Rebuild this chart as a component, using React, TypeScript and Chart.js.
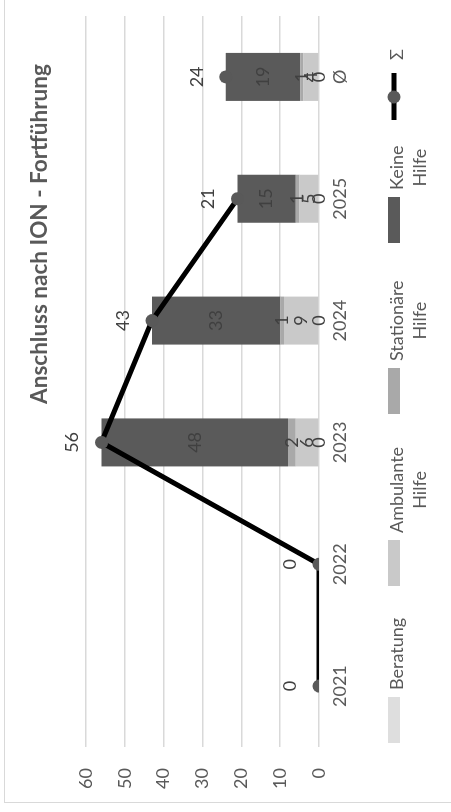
import React, { useEffect, useRef } from 'react';
import { Chart, registerables } from 'chart.js';

Chart.register(...registerables);

const categories = ['2021', '2022', '2023', '2024', '2025', 'Ø'];
const beratung = [null, null, 0, 0, 0, 0];
const ambulante = [null, null, 6, 9, 5, 4];
const stationaer = [null, null, 2, 1, 1, 0.8];
const keineHilfe = [null, null, 48, 33, 15, 19.2];
const summe = [0, 0, 56, 43, 21, 24];
const seriesNames = ['Beratung', 'Ambulante Hilfe', 'Stationäre Hilfe', 'Keine Hilfe', 'Σ'];
const seriesColors = ['#dedede', '#c9c9c9', '#a9a9a9', '#5a5a5a', '#000000'];
const yTicks = [0, 10, 20, 30, 40, 50, 60];
const chartTitle = 'Anschluss nach ION - Fortführung';

const W = 812;
const H = 451;
const FONT = 'Lato';
const TEXT = '#595959';
const LABEL = '#404040';

const labelsPlugin = {
  id: 'customLabels',
  afterDatasetsDraw(chart: any) {
    const ctx = chart.ctx;
    ctx.save();
    ctx.font = `18px ${FONT}`;
    ctx.fillStyle = LABEL;
    ctx.textAlign = 'center';
    ctx.textBaseline = 'middle';
    chart.data.datasets.forEach((ds: any, di: number) => {
      const meta = chart.getDatasetMeta(di);
      meta.data.forEach((el: any, i: number) => {
        const v = ds.data[i];
        if (v === null || v === undefined) return;
        const txt = String(Math.round(v));
        if (ds.type === 'line') {
          ctx.fillText(txt, el.x, el.y - 29);
        } else {
          ctx.fillText(txt, el.x, (el.y + el.base) / 2);
        }
      });
    });
    ctx.restore();
  },
  afterDraw(chart: any) {
    const ctx = chart.ctx;
    ctx.save();
    // title
    ctx.font = `bold 22.5px ${FONT}`;
    ctx.fillStyle = TEXT;
    ctx.textAlign = 'center';
    ctx.textBaseline = 'middle';
    ctx.fillText(chartTitle, 578, 40);
    // legend
    const starts = [69, 226, 398, 569, 692];
    const sy = 394;
    ctx.font = `18px ${FONT}`;
    seriesNames.forEach((name, i) => {
      const x0 = starts[i];
      if (i < 4) {
        ctx.fillStyle = seriesColors[i];
        ctx.fillRect(x0, sy - 6, 46, 12);
      } else {
        ctx.strokeStyle = '#000';
        ctx.lineWidth = 5;
        ctx.beginPath();
        ctx.moveTo(x0, sy);
        ctx.lineTo(x0 + 47, sy);
        ctx.stroke();
        ctx.fillStyle = '#595959';
        ctx.beginPath();
        ctx.arc(x0 + 23, sy, 6.5, 0, Math.PI * 2);
        ctx.fill();
      }
      const parts = name.split(' ');
      const tx = x0 + (i < 4 ? 53 : 60);
      ctx.fillStyle = TEXT;
      ctx.textAlign = 'left';
      ctx.fillText(parts[0], tx, 397);
      if (parts.length > 1) {
        const w0 = ctx.measureText(parts[0]).width;
        ctx.textAlign = 'center';
        ctx.fillText(parts.slice(1).join(' '), tx + w0 / 2, 420);
      }
    });
    ctx.restore();
  },
};

export default function App() {
  const ref = useRef<HTMLCanvasElement | null>(null);
  useEffect(() => {
    if (!ref.current) return;
    Chart.defaults.font.family = FONT;
    const barData = [beratung, ambulante, stationaer, keineHilfe];
    const datasets: any[] = barData.map((d, i) => ({
      type: 'bar',
      label: seriesNames[i],
      data: d,
      backgroundColor: seriesColors[i],
      borderWidth: 0,
      stack: 'bars',
      order: 1,
      categoryPercentage: 1,
      barPercentage: 0.394,
    }));
    datasets.push({
      type: 'line',
      label: seriesNames[4],
      data: summe,
      borderColor: '#000',
      borderWidth: 5,
      pointRadius: 6.5,
      pointBackgroundColor: '#595959',
      pointBorderColor: '#595959',
      pointBorderWidth: 0,
      stack: 'line',
      order: 0,
      tension: 0,
      segment: {
        borderColor: (c: any) => (c.p1DataIndex === 5 ? 'rgba(0,0,0,0)' : '#000'),
      },
    });
    const chart = new Chart(ref.current, {
      type: 'bar',
      data: { labels: categories, datasets },
      options: {
        animation: false,
        responsive: false,
        devicePixelRatio: 1,
        layout: { padding: { left: 0, top: 86, right: 16, bottom: 92 } },
        plugins: {
          legend: { display: false },
          title: { display: false },
          tooltip: { enabled: false },
        },
        scales: {
          x: {
            stacked: true,
            grid: { display: false, drawTicks: false },
            border: { display: false },
            ticks: { color: TEXT, font: { size: 18, family: FONT }, padding: 10, maxRotation: 0 },
            afterFit: (s: any) => { s.height = 40; },
          },
          y: {
            stacked: true,
            min: 0,
            max: 60,
            grid: { color: '#d9d9d9', lineWidth: 1.5, drawTicks: false },
            border: { display: false },
            afterBuildTicks: (s: any) => { s.ticks = yTicks.map((v) => ({ value: v })); },
            ticks: { color: TEXT, font: { size: 18, family: FONT }, padding: 21 },
            afterFit: (s: any) => { s.width = 65; },
          },
        },
      },
      plugins: [labelsPlugin],
    } as any);
    return () => chart.destroy();
  }, []);

  return (
    <div
      style={{
        position: 'fixed',
        left: 0,
        top: 0,
        width: W,
        height: H,
        overflow: 'hidden',
        background: '#fff',
        transformOrigin: 'top left',
        transform: `translate(0px, ${W}px) rotate(-90deg)`,
      }}
    >
      <div
        style={{
          position: 'absolute',
          left: 9,
          top: 4,
          width: 900,
          height: 600,
          border: '1.5px solid #d9d9d9',
          boxSizing: 'border-box',
        }}
      />
      <canvas ref={ref} width={W} height={H} style={{ position: 'absolute', left: 0, top: 0, width: W, height: H }} />
    </div>
  );
}
